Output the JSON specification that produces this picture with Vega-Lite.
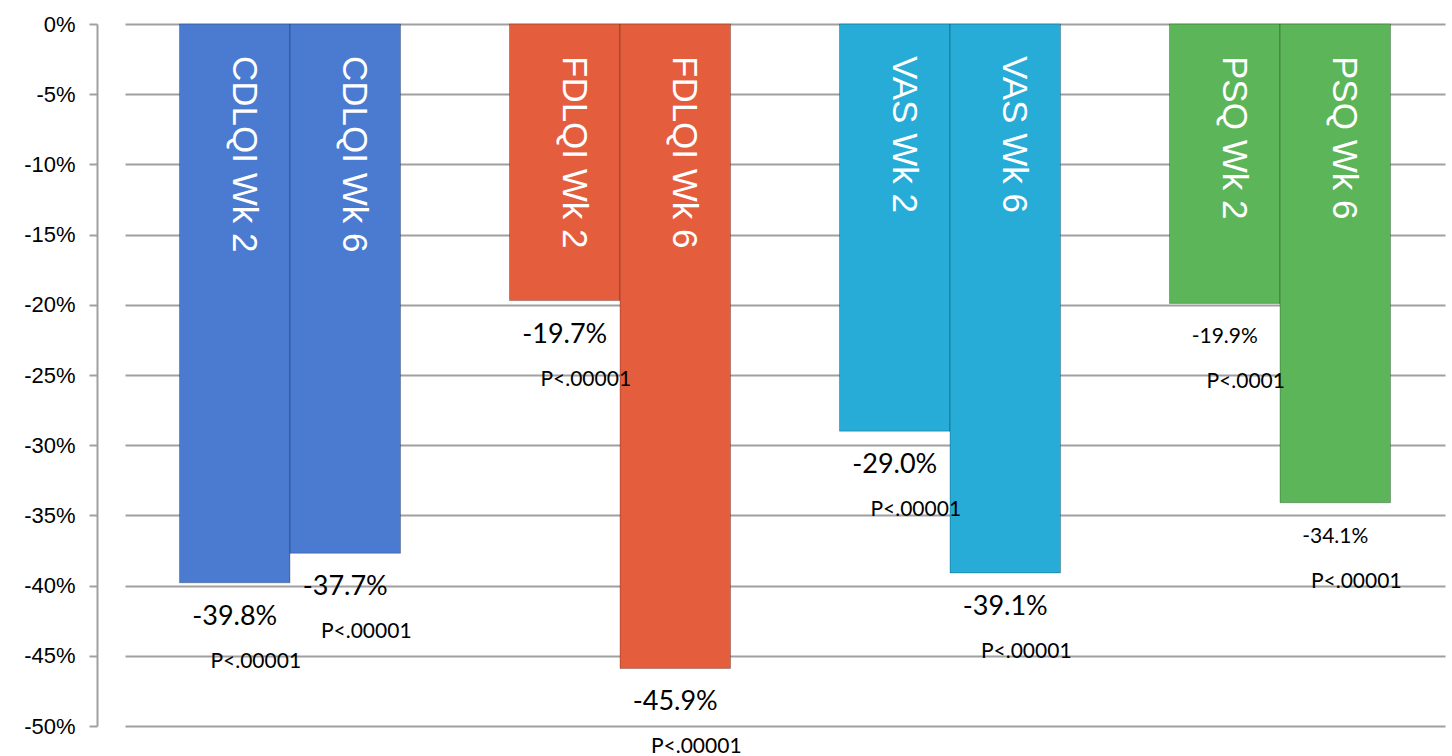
{
  "$schema": "https://vega.github.io/schema/vega-lite/v6.json",
  "width": 1355,
  "height": 702,
  "autosize": {"type": "none"},
  "padding": {"left": 97, "top": 24, "right": 0, "bottom": 30},
  "background": "white",
  "config": {"view": {"stroke": null}},
  "data": {
    "values": [
      {"measure": "CDLQI", "week": "Wk 2", "name": "CDLQI Wk 2", "change": -39.8, "label": "-39.8%", "p": "P<.00001"},
      {"measure": "CDLQI", "week": "Wk 6", "name": "CDLQI Wk 6", "change": -37.7, "label": "-37.7%", "p": "P<.00001"},
      {"measure": "FDLQI", "week": "Wk 2", "name": "FDLQI Wk 2", "change": -19.7, "label": "-19.7%", "p": "P<.00001"},
      {"measure": "FDLQI", "week": "Wk 6", "name": "FDLQI Wk 6", "change": -45.9, "label": "-45.9%", "p": "P<.00001"},
      {"measure": "VAS", "week": "Wk 2", "name": "VAS Wk 2", "change": -29.0, "label": "-29.0%", "p": "P<.00001"},
      {"measure": "VAS", "week": "Wk 6", "name": "VAS Wk 6", "change": -39.1, "label": "-39.1%", "p": "P<.00001"},
      {"measure": "PSQ", "week": "Wk 2", "name": "PSQ Wk 2", "change": -19.9, "label": "-19.9%", "p": "P<.0001"},
      {"measure": "PSQ", "week": "Wk 6", "name": "PSQ Wk 6", "change": -34.1, "label": "-34.1%", "p": "P<.00001"}
    ]
  },
  "encoding": {
    "x": {
      "field": "measure", "type": "nominal",
      "scale": {"domain": ["CDLQI", "FDLQI", "VAS", "PSQ"], "range": [28, 1348], "paddingInner": 0, "paddingOuter": 0},
      "axis": null
    },
    "xOffset": {
      "field": "week", "type": "nominal",
      "scale": {"domain": ["Wk 2", "Wk 6"], "paddingInner": 0, "paddingOuter": 0.493}
    }
  },
  "layer": [
    {
      "mark": {"type": "bar", "stroke": "#000000", "strokeOpacity": 0.25, "strokeWidth": 1},
      "encoding": {
        "y": {
          "field": "change", "type": "quantitative",
          "scale": {"domain": [-50, 0], "nice": false, "zero": true},
          "axis": {
            "title": null,
            "values": [0, -5, -10, -15, -20, -25, -30, -35, -40, -45, -50],
            "labelExpr": "datum.value + '%'",
            "labelFont": "Liberation Sans",
            "labelFontSize": 22,
            "labelColor": "#000000",
            "labelPadding": 14,
            "grid": true,
            "gridColor": "#a0a0a0",
            "gridWidth": 2,
            "domainColor": "#a0a0a0",
            "domainWidth": 2,
            "tickColor": "#a0a0a0",
            "tickWidth": 2,
            "tickSize": 8
          }
        },
        "y2": {"datum": 0},
        "color": {
          "field": "measure", "type": "nominal",
          "scale": {"domain": ["CDLQI", "FDLQI", "VAS", "PSQ"], "range": ["#4a7bd0", "#e45d3c", "#26acd7", "#5db559"]},
          "legend": null
        }
      }
    },
    {
      "mark": {"type": "text", "angle": 90, "align": "left", "baseline": "alphabetic", "dx": 32, "dy": 2, "font": "Liberation Sans", "fontSize": 35, "color": "white"},
      "encoding": {
        "y": {"datum": 0, "type": "quantitative"},
        "text": {"field": "name"}
      }
    },
    {
      "mark": {"type": "text", "align": "center", "baseline": "middle", "dy": 34, "font": "Lato", "color": "#000000"},
      "encoding": {
        "y": {"field": "change", "type": "quantitative"},
        "text": {"field": "label"},
        "size": {"condition": {"test": "datum.measure === 'PSQ'", "value": 21}, "value": 27}
      }
    },
    {
      "mark": {"type": "text", "align": "center", "baseline": "middle", "dx": 21, "dy": 79, "font": "Lato", "fontSize": 21, "color": "#000000"},
      "encoding": {
        "y": {"field": "change", "type": "quantitative"},
        "text": {"field": "p"}
      }
    }
  ]
}
